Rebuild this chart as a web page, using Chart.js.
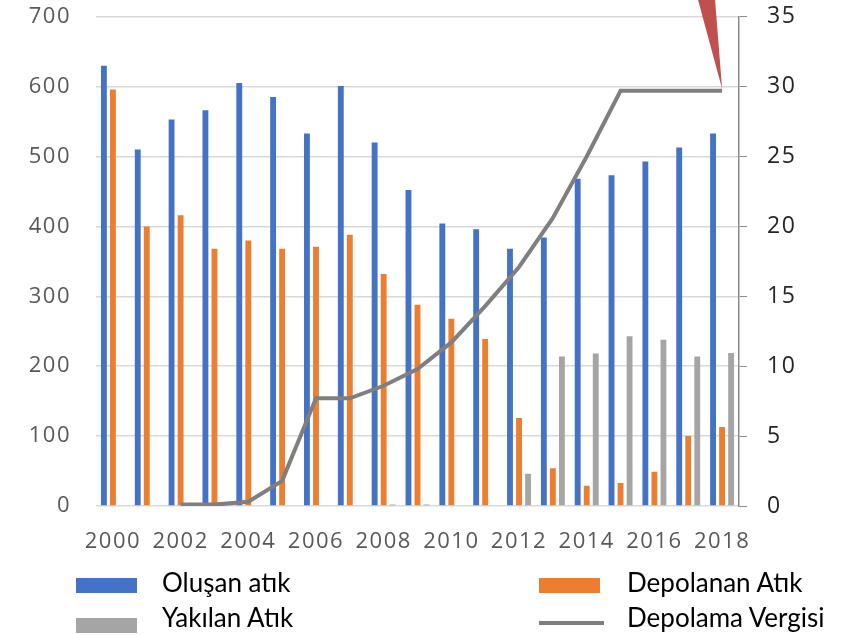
<!DOCTYPE html>
<html>
<head>
<meta charset="utf-8">
<script src="https://cdn.jsdelivr.net/npm/chart.js@4.4.1/dist/chart.umd.min.js"></script>
<style>
  body { margin: 0; background: #fff; }
  #wrap { position: relative; width: 863px; height: 635px; }
  .lg-text { position: absolute; font-family: Lato, sans-serif; font-size: 26px; color: #000; white-space: nowrap; line-height: 1; }
  .lg-mark { position: absolute; }
</style>
</head>
<body>
<div id="wrap">
  <canvas id="chart" width="863" height="635"></canvas>
</div>
<script>
// Yillar (kategori ekseni)
const years = ['2000', '2001', '2002', '2003', '2004', '2005', '2006', '2007', '2008', '2009',
               '2010', '2011', '2012', '2013', '2014', '2015', '2016', '2017', '2018'];

// Sol eksen: atik miktarlari
const olusanAtik    = [630, 510, 553, 566, 605, 585, 533, 601, 520, 452, 404, 396, 368, 384, 468, 473, 493, 513, 533];
const depolananAtik = [596, 400, 416, 368, 380, 368, 371, 388, 332, 288, 268, 239, 126, 54, 29, 33, 49, 100, 113];
const yakilanAtik   = [0, 0, 0, 0, 0, 0, 1, 1, 2, 2, 0, 0, 46, 214, 218, 243, 238, 214, 219];

// Sag eksen: depolama vergisi
const depolamaVergisi = [null, null, 0.1, 0.1, 0.3, 1.8, 7.7, 7.7, 8.6, 9.8, 11.7, 14.3, 17.1, 20.6, 25, 29.7, 29.7, 29.7, 29.7];

const leftTicks = { min: 0, max: 700, step: 100 };
const rightTicks = { min: 0, max: 35, step: 5 };

const BLUE = '#4472C4';
const ORANGE = '#ED7D31';
const GRAY = '#A5A5A5';
const LINE_GRAY = '#7F7F7F';
const TICK_FONT = "'Open Sans', sans-serif";

// Eksen yazilarinda biraz harf araligi
const spacingPlugin = {
  id: 'spacing',
  beforeDraw(chart) { chart.ctx.letterSpacing = '1.5px'; }
};

// Kirmizi ok (son vergi noktasini gosteriyor)
const arrowPlugin = {
  id: 'arrow',
  afterDatasetsDraw(chart) {
    const meta = chart.getDatasetMeta(3);
    const tip = meta.data[meta.data.length - 1];
    const ctx = chart.ctx;
    ctx.save();
    ctx.fillStyle = '#C0504D';
    ctx.beginPath();
    ctx.moveTo(tip.x - 24, 0);
    ctx.lineTo(tip.x - 7, 0);
    ctx.lineTo(tip.x, tip.y - 2);
    ctx.closePath();
    ctx.fill();
    ctx.restore();
  }
};

// dikey eksenlerin ust/alt bosluklarini sifirla (chart area'yi padding belirlesin)
function fitY(width) {
  return (s) => { s.width = width; s.paddingTop = 0; s.paddingBottom = 0; };
}

const ctx = document.getElementById('chart').getContext('2d');
const chart = new Chart(ctx, {
  type: 'bar',
  data: {
    labels: years,
    datasets: [
      { label: 'Oluşan atık', data: olusanAtik, backgroundColor: BLUE, yAxisID: 'y', order: 1 },
      { label: 'Depolanan Atık', data: depolananAtik, backgroundColor: ORANGE, yAxisID: 'y', order: 1 },
      { label: 'Yakılan Atık', data: yakilanAtik, backgroundColor: GRAY, yAxisID: 'y', order: 1 },
      {
        label: 'Depolama Vergisi', type: 'line', data: depolamaVergisi, yAxisID: 'y1', order: 0,
        borderColor: LINE_GRAY, borderWidth: 4, pointRadius: 0, tension: 0, spanGaps: false
      }
    ]
  },
  options: {
    responsive: false,
    animation: false,
    layout: { padding: { left: 0, right: 0, top: 16.7, bottom: 64.6 } },
    datasets: { bar: { categoryPercentage: 0.8, barPercentage: 0.65 } },
    plugins: { legend: { display: false }, tooltip: { enabled: false } },
    scales: {
      x: {
        grid: { display: false },
        border: { display: false },
        ticks: {
          autoSkip: false, maxRotation: 0, padding: 15,
          color: '#595959', font: { family: TICK_FONT, size: 22 },
          callback: (v, i) => (i % 2 === 0 ? years[i] : '')
        }
      },
      y: {
        position: 'left',
        min: leftTicks.min, max: leftTicks.max,
        afterFit: fitY(96),
        grid: { color: '#D9D9D9', lineWidth: 1.5, drawTicks: false },
        border: { display: false },
        ticks: { stepSize: leftTicks.step, padding: 25, color: '#595959', font: { family: TICK_FONT, size: 22 } }
      },
      y1: {
        position: 'right',
        min: rightTicks.min, max: rightTicks.max,
        afterFit: fitY(124),
        grid: { drawOnChartArea: false, drawTicks: true, tickLength: 8, color: '#8C8C8C' },
        border: { display: true, color: '#8C8C8C', width: 1.5 },
        ticks: { stepSize: rightTicks.step, padding: 20, color: '#262626', font: { family: TICK_FONT, size: 23 } }
      }
    }
  },
  plugins: [spacingPlugin, arrowPlugin]
});

// Alt kisimdaki gosterge (legend), veri setlerinden
const legendPos = [
  { ds: 0, x: 76, y: 578, tx: 162, ty: 568.6 },
  { ds: 1, x: 539, y: 578, tx: 627, ty: 568.6 },
  { ds: 2, x: 76, y: 618, tx: 162, ty: 603.6 },
  { ds: 3, x: 539, y: 618, tx: 627, ty: 603.6 }
];
const wrap = document.getElementById('wrap');
legendPos.forEach(p => {
  const ds = chart.data.datasets[p.ds];
  const mark = document.createElement('div');
  mark.className = 'lg-mark';
  if (ds.type === 'line') {
    Object.assign(mark.style, { left: p.x + 'px', top: (p.y + 3) + 'px', width: '65px', height: '4px', background: ds.borderColor });
  } else {
    Object.assign(mark.style, { left: p.x + 'px', top: p.y + 'px', width: '61px', height: '15px', background: ds.backgroundColor });
  }
  wrap.appendChild(mark);
  const t = document.createElement('div');
  t.className = 'lg-text';
  t.textContent = ds.label;
  Object.assign(t.style, { left: p.tx + 'px', top: p.ty + 'px' });
  wrap.appendChild(t);
});
</script>
</body>
</html>
